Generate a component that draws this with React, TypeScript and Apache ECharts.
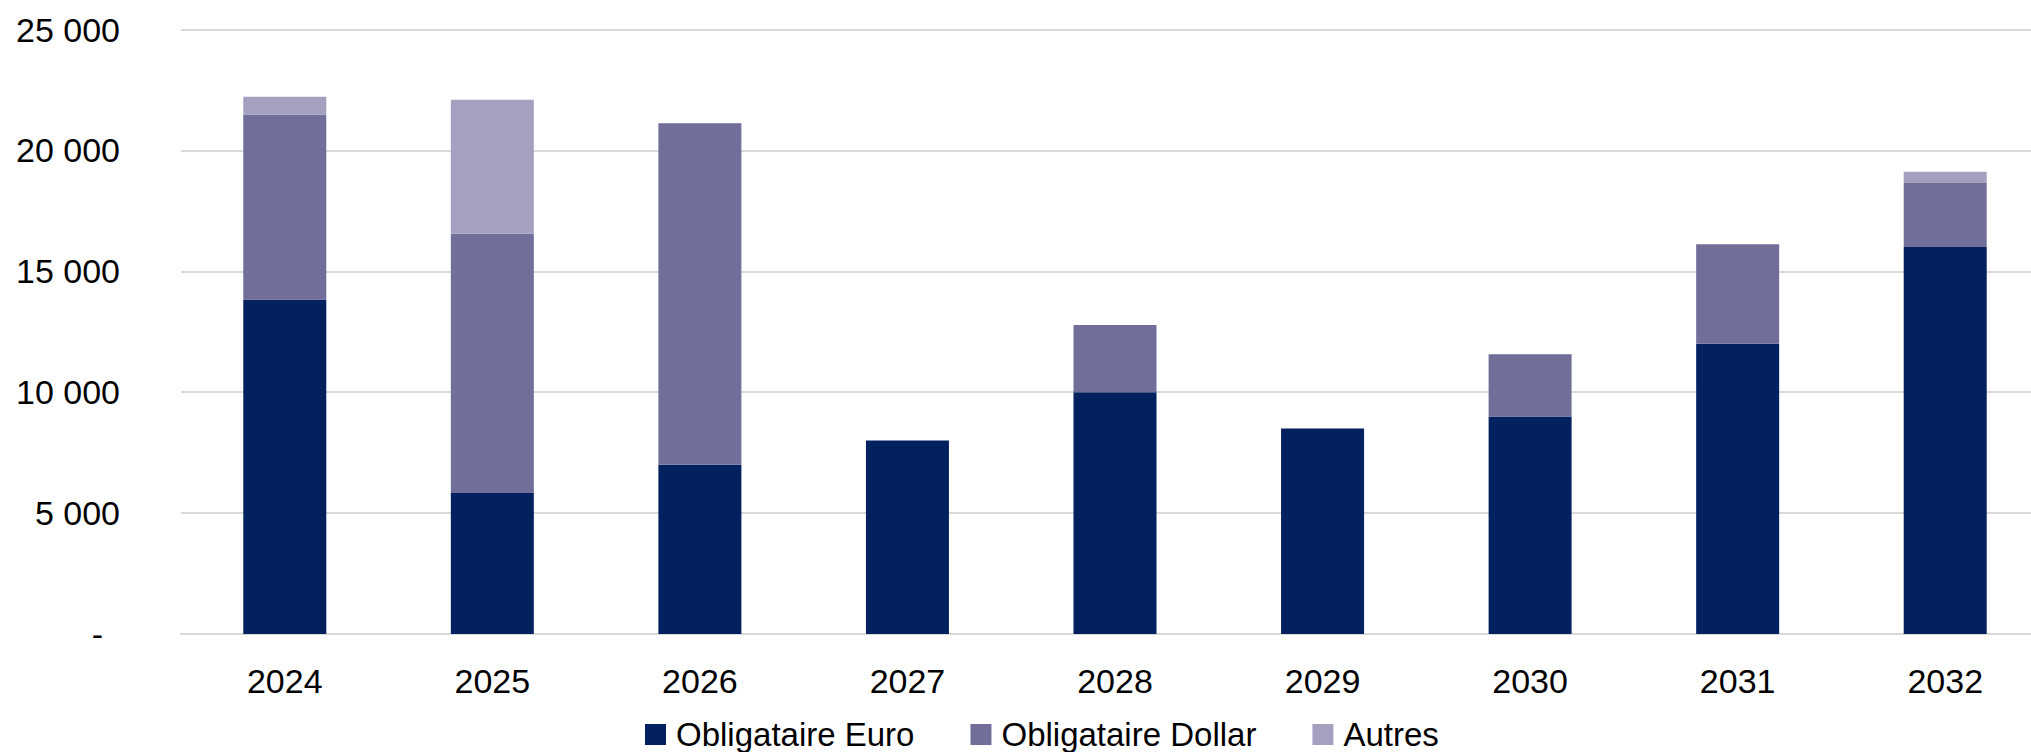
import React, { useEffect, useRef } from "react";
import * as echarts from "echarts";

const categories = ["2024", "2025", "2026", "2027", "2028", "2029", "2030", "2031", "2032"];
const euroValues = [13830, 5830, 7000, 8000, 10000, 8500, 9000, 12000, 16000];
const dollarValues = [7650, 10725, 14120, 0, 2775, 0, 2566, 4116, 2652];
const autresValues = [741, 5542, 0, 0, 0, 0, 0, 0, 468];
const seriesNames = ["Obligataire Euro", "Obligataire Dollar", "Autres"];
const seriesColors = ["#03215F", "#716E9A", "#A4A0C0"];

const FONT = "'Liberation Sans', Arial, sans-serif";

function formatThousands(v: number): string {
  if (v === 0) return "{z|-}";
  const s = String(Math.round(v));
  return s.replace(/\B(?=(\d{3})+(?!\d))/g, " ");
}

export default function App() {
  const ref = useRef<HTMLDivElement>(null);

  useEffect(() => {
    if (!ref.current) return;
    const chart = echarts.init(ref.current, undefined, { renderer: "svg" });
    const toData = (arr: number[]) => arr.map((v) => (v === 0 ? null : v));
    const seriesData = [euroValues, dollarValues, autresValues];
    chart.setOption({
      animation: false,
      backgroundColor: "#FFFFFF",
      textStyle: { fontFamily: FONT },
      grid: {
        left: 181,
        right: -18,
        top: 29.5,
        bottom: 118,
        containLabel: false,
        outerBoundsMode: "none",
      },
      legend: {
        data: seriesNames,
        left: 645,
        top: 718,
        padding: 0,
        icon: "rect",
        itemWidth: 21,
        itemHeight: 21,
        itemGap: 56,
        textStyle: {
          fontFamily: FONT,
          fontSize: 33,
          lineHeight: 32,
          color: "#000000",
          padding: [0, 0, 0, 5],
        },
      },
      xAxis: {
        type: "category",
        data: categories,
        axisLine: { show: true, lineStyle: { color: "#D9D9D9", width: 2 } },
        axisTick: { show: false },
        axisLabel: {
          color: "#000000",
          fontFamily: FONT,
          fontSize: 34,
          margin: 30,
        },
      },
      yAxis: {
        type: "value",
        min: 0,
        max: 25000,
        interval: 5000,
        axisLine: { show: false },
        axisTick: { show: false },
        splitLine: { show: true, lineStyle: { color: "#D9D9D9", width: 2 } },
        axisLabel: {
          color: "#000000",
          fontFamily: FONT,
          fontSize: 34,
          margin: 61,
          formatter: (v: number) => formatThousands(v),
          rich: {
            z: {
              fontFamily: FONT,
              fontSize: 34,
              color: "#000000",
              padding: [0, 17, 0, 0],
            },
          },
        },
      },
      series: seriesNames.map((name, i) => ({
        name,
        type: "bar",
        stack: "total",
        barWidth: 83,
        itemStyle: { color: seriesColors[i] },
        data: toData(seriesData[i]),
      })),
    });
    return () => chart.dispose();
  }, []);

  return (
    <div
      ref={ref}
      style={{ position: "fixed", left: 0, top: 0, width: 2031, height: 752, background: "#fff" }}
    />
  );
}
